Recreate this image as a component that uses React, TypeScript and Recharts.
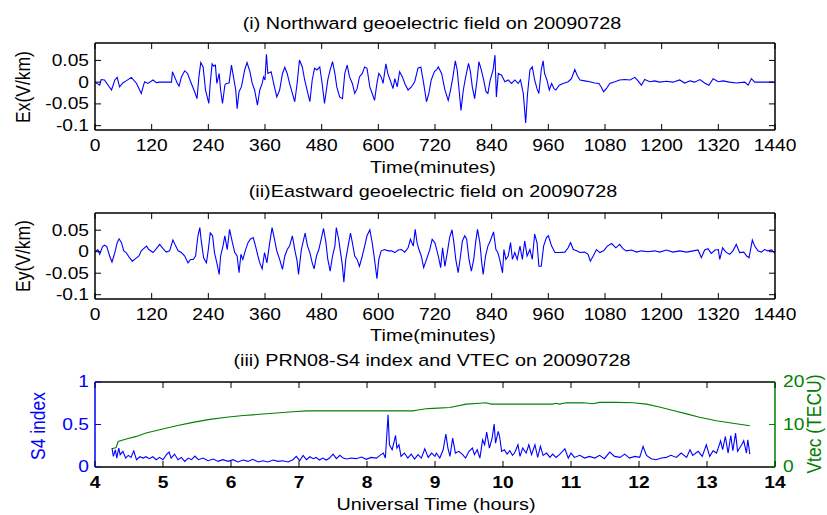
import { LineChart, Line, XAxis, YAxis, ReferenceLine } from "recharts";

// ---- tick values ----
const minuteTicks = [0, 120, 240, 360, 480, 600, 720, 840, 960, 1080, 1200, 1320, 1440];
const fieldTicks = [-0.1, -0.05, 0, 0.05];
const hourTicks = [4, 5, 6, 7, 8, 9, 10, 11, 12, 13, 14];
const s4Ticks = [0, 0.5, 1];
const vtecTicks = [0, 10, 20];

// ---- (i) northward field, [minute, V/km] ----
const exSamples: [number, number][] = [
  [0, 0], [10, -0.007], [13, 0.006], [20, 0.005], [35, -0.018], [42, 0.005], [47, 0.011], [52, -0.011],
  [59, -0.002], [66, 0.003], [77, 0.011], [88, -0.003], [98, -0.026], [105, 0.001], [112, -0.003],
  [123, 0.005], [130, -0.001], [137, 0], [162, 0], [164, 0.024], [169, 0.011], [174, -0.002],
  [178, -0.009], [183, 0.012], [190, 0.026], [196, 0.02], [204, -0.003], [211, -0.022], [216, -0.038],
  [220, 0.012], [224, 0.045], [229, 0.035], [234, -0.018], [241, -0.049], [244, -0.003], [248, 0.042],
  [251, 0.037], [255, 0.039], [258, -0.003], [263, 0.02], [266, -0.018], [270, -0.049], [275, -0.007],
  [278, -0.003], [284, -0.002], [289, 0.039], [292, 0.02], [298, -0.018], [301, -0.061], [305, -0.022],
  [310, -0.011], [317, 0.028], [322, 0.045], [328, 0.024], [333, -0.003], [338, -0.018], [344, -0.053],
  [349, -0.018], [354, -0.003], [357, 0.012], [360, 0.005], [363, 0.064], [366, 0.02], [373, 0.024],
  [380, -0.011], [385, -0.034], [391, -0.018], [397, 0.02], [402, 0.034], [407, 0.02], [412, -0.003],
  [418, -0.026], [423, -0.045], [428, -0.003], [433, 0.051], [439, 0.035], [444, 0.005], [449, -0.018],
  [455, -0.045], [460, 0.005], [465, 0.032], [470, 0.028], [476, 0.035], [481, -0.003], [486, -0.049],
  [493, 0.005], [498, 0.028], [503, 0.047], [508, 0.02], [512, -0.011], [518, -0.034], [524, -0.038],
  [529, 0.02], [534, 0.039], [539, 0.012], [545, -0.003], [550, -0.026], [555, -0.015], [560, 0.012],
  [566, 0.02], [571, 0.035], [576, 0.032], [582, -0.011], [587, -0.026], [592, -0.042], [597, -0.003],
  [601, 0.02], [606, 0.012], [610, -0.003], [616, 0.042], [620, 0.02], [625, 0.005], [631, -0.015],
  [635, 0.008], [640, -0.011], [645, 0.024], [651, 0.012], [656, -0.003], [663, -0.018], [670, -0.011],
  [677, 0.001], [684, 0.032], [690, 0.035], [696, -0.003], [702, -0.045], [707, -0.026], [712, 0.005],
  [719, 0.025], [723, 0.028], [727, 0.035], [734, 0.02], [741, -0.018], [748, -0.042], [753, -0.018],
  [758, 0.012], [763, 0.049], [767, 0.028], [771, -0.018], [775, -0.065], [780, -0.018], [785, 0.012],
  [791, 0.043], [795, 0.024], [799, -0.011], [804, -0.038], [809, 0.005], [813, 0.047], [818, 0.028],
  [823, 0.005], [828, -0.022], [832, -0.026], [837, 0.005], [843, 0.028], [847, 0.062], [850, -0.034],
  [854, 0.02], [861, 0.016], [868, 0.001], [875, 0.005], [882, -0.003], [889, 0.005], [896, -0.003],
  [901, 0.005], [907, -0.026], [912, -0.094], [916, -0.026], [921, 0.028], [926, 0.035], [931, 0.005],
  [936, -0.015], [940, -0.026], [945, 0.028], [949, 0.049], [952, 0.02], [957, 0.005], [962, -0.018],
  [967, -0.003], [972, -0.015], [976, -0.018], [983, -0.007], [991, -0.003], [1002, 0.001], [1009, 0.008],
  [1016, 0.029], [1021, 0.016], [1027, 0.005], [1037, 0.003], [1048, 0.001], [1058, -0.002], [1067, -0.003],
  [1072, -0.011], [1077, -0.022], [1083, -0.015], [1090, -0.003], [1101, 0.001], [1111, 0.005], [1122, 0.006],
  [1133, 0.005], [1143, 0.011], [1150, 0.003], [1157, -0.007], [1164, 0.006], [1175, 0.001], [1185, 0.003],
  [1196, 0], [1210, 0.002], [1224, 0], [1238, 0.005], [1249, -0.002], [1260, 0.003], [1270, 0], [1281, 0.006],
  [1291, -0.002], [1300, -0.007], [1309, 0.008], [1320, 0.001], [1330, 0.003], [1344, 0], [1358, -0.002],
  [1376, 0], [1383, -0.007], [1390, 0.008], [1397, 0], [1440, 0],
];

// ---- (ii) eastward field ----
const eySamples: [number, number][] = [
  [0, 0], [6, 0.005], [10, -0.006], [16, 0.012], [20, 0.015], [25, 0.012], [31, -0.01], [36, -0.024],
  [42, -0.002], [47, 0.021], [51, 0.03], [56, 0.021], [61, 0.002], [66, -0.002], [73, -0.014], [79, -0.022],
  [86, -0.016], [93, -0.01], [98, 0.002], [103, 0.007], [109, 0.013], [114, 0.005], [123, -0.002], [130, 0.007],
  [137, 0.017], [144, 0.007], [151, -0.001], [158, 0.002], [165, 0.027], [171, 0.013], [176, 0.002],
  [183, -0.002], [190, -0.01], [197, -0.026], [202, -0.018], [208, -0.018], [213, -0.01], [218, 0.037],
  [222, 0.056], [225, 0.025], [230, -0.014], [236, -0.026], [240, 0.005], [244, 0.044], [249, 0.037],
  [253, -0.002], [258, -0.026], [263, -0.053], [266, -0.01], [271, 0.013], [275, 0.037], [280, 0.005],
  [285, 0.052], [291, 0.021], [296, -0.002], [301, -0.01], [305, -0.049], [309, -0.006], [313, -0.018],
  [319, 0.005], [324, 0.021], [329, 0.029], [335, 0.033], [340, 0.013], [345, -0.01], [349, -0.026],
  [354, -0.04], [359, -0.002], [364, -0.026], [370, 0.021], [375, 0.056], [380, 0.029], [385, 0.002],
  [391, -0.018], [397, -0.041], [402, -0.01], [407, 0.005], [412, 0.013], [418, 0.037], [423, 0.005],
  [428, -0.022], [431, -0.053], [437, 0.005], [442, 0.029], [445, 0.043], [450, 0.013], [455, -0.002],
  [460, -0.026], [464, -0.04], [469, -0.01], [474, 0.005], [479, 0.029], [484, 0.054], [489, 0.021],
  [493, -0.018], [498, -0.045], [503, -0.01], [508, 0.013], [511, 0.056], [516, 0.029], [520, -0.002],
  [524, -0.033], [527, -0.071], [531, -0.018], [536, 0.013], [541, 0.043], [545, 0.021], [550, -0.01],
  [555, -0.018], [560, -0.034], [566, -0.01], [571, 0.013], [576, 0.037], [582, 0.051], [587, 0.021],
  [592, -0.018], [597, -0.063], [601, -0.018], [606, 0.002], [613, 0.005], [621, 0.002], [628, 0.002],
  [635, -0.002], [642, 0.004], [649, 0.005], [656, -0.001], [663, 0.009], [668, 0.029], [674, 0.013],
  [678, 0.052], [682, 0.021], [686, 0.005], [691, -0.01], [696, -0.037], [702, -0.018], [709, 0.005],
  [714, 0.029], [720, 0.02], [727, -0.01], [732, -0.037], [736, 0.009], [741, -0.034], [746, -0.002],
  [751, 0.033], [756, 0.051], [760, 0.021], [764, -0.018], [769, -0.049], [774, -0.01], [778, 0.025],
  [783, 0.037], [787, 0.029], [792, -0.018], [797, -0.045], [802, -0.018], [806, 0.021], [810, 0.052],
  [815, 0.021], [819, -0.026], [822, -0.053], [827, -0.01], [832, 0.013], [837, 0.025], [844, 0.046],
  [849, 0.005], [853, -0.002], [857, -0.018], [863, -0.049], [866, 0.005], [870, -0.018], [875, -0.01],
  [880, 0.021], [884, -0.018], [889, -0.002], [894, -0.018], [900, 0.013], [905, -0.018], [910, 0.025],
  [915, -0.01], [921, 0.005], [926, -0.018], [931, 0.041], [936, 0.021], [940, -0.034], [945, -0.034],
  [950, 0.013], [956, 0.033], [960, 0.037], [967, 0.013], [974, -0.002], [984, -0.002], [995, -0.001],
  [1002, 0.009], [1007, 0.021], [1013, 0.005], [1020, 0.002], [1027, -0.002], [1037, -0.001], [1044, -0.006],
  [1049, -0.022], [1055, -0.01], [1062, 0.005], [1069, -0.002], [1077, 0.002], [1085, 0.013], [1094, 0.019],
  [1103, 0.009], [1111, 0.017], [1118, 0.007], [1125, 0.002], [1136, 0.004], [1147, -0.001], [1157, 0.002],
  [1171, 0], [1185, 0.002], [1196, -0.001], [1210, 0.004], [1224, -0.001], [1238, 0.002], [1253, -0.001],
  [1267, 0.002], [1277, 0.004], [1284, -0.014], [1291, 0.004], [1298, 0.007], [1305, -0.004], [1313, 0.004],
  [1320, 0.005], [1323, -0.018], [1329, 0.009], [1336, -0.001], [1344, -0.006], [1351, 0.002], [1358, 0.017],
  [1365, -0.002], [1374, -0.001], [1380, -0.01], [1385, -0.014], [1392, 0.027], [1397, 0.013], [1404, 0.002],
  [1411, -0.001], [1418, 0.005], [1425, 0.002], [1433, 0.004], [1440, -0.004],
];

// ---- (iii) S4 index, [UT hour, S4] ----
const s4Samples: [number, number][] = [
  [4.25, 0.223], [4.27, 0.125], [4.3, 0.203], [4.32, 0.105], [4.35, 0.223], [4.37, 0.145], [4.41, 0.184],
  [4.45, 0.105], [4.49, 0.137], [4.53, 0.113], [4.57, 0.191], [4.61, 0.086], [4.66, 0.121], [4.71, 0.105],
  [4.75, 0.121], [4.8, 0.098], [4.85, 0.121], [4.9, 0.086], [4.95, 0.113], [5.0, 0.086], [5.05, 0.145],
  [5.09, 0.176], [5.12, 0.105], [5.17, 0.152], [5.22, 0.086], [5.27, 0.113], [5.32, 0.066], [5.37, 0.105],
  [5.42, 0.086], [5.47, 0.129], [5.52, 0.086], [5.59, 0.105], [5.66, 0.074], [5.74, 0.094], [5.81, 0.066],
  [5.88, 0.086], [5.96, 0.066], [6.03, 0.086], [6.1, 0.059], [6.18, 0.082], [6.25, 0.066], [6.32, 0.09],
  [6.4, 0.059], [6.47, 0.074], [6.54, 0.059], [6.62, 0.082], [6.69, 0.066], [6.76, 0.074], [6.84, 0.059],
  [6.91, 0.086], [6.96, 0.125], [7.01, 0.074], [7.06, 0.137], [7.11, 0.086], [7.16, 0.121], [7.21, 0.098],
  [7.25, 0.113], [7.3, 0.082], [7.35, 0.105], [7.4, 0.082], [7.45, 0.105], [7.5, 0.152], [7.55, 0.098],
  [7.6, 0.137], [7.65, 0.105], [7.7, 0.094], [7.77, 0.105], [7.84, 0.098], [7.92, 0.117], [7.99, 0.09],
  [8.06, 0.113], [8.14, 0.105], [8.19, 0.137], [8.24, 0.164], [8.27, 0.105], [8.31, 0.613], [8.33, 0.262],
  [8.37, 0.203], [8.4, 0.301], [8.42, 0.371], [8.44, 0.223], [8.47, 0.262], [8.5, 0.125], [8.55, 0.164],
  [8.6, 0.105], [8.65, 0.152], [8.7, 0.094], [8.75, 0.145], [8.8, 0.105], [8.85, 0.215], [8.9, 0.113],
  [8.95, 0.164], [9.0, 0.125], [9.02, 0.164], [9.07, 0.105], [9.12, 0.203], [9.16, 0.387], [9.19, 0.223],
  [9.22, 0.125], [9.26, 0.34], [9.3, 0.164], [9.35, 0.184], [9.4, 0.152], [9.45, 0.105], [9.5, 0.184],
  [9.55, 0.223], [9.58, 0.145], [9.62, 0.203], [9.66, 0.105], [9.7, 0.32], [9.73, 0.262], [9.76, 0.41],
  [9.8, 0.223], [9.84, 0.34], [9.87, 0.504], [9.89, 0.281], [9.93, 0.418], [9.95, 0.359], [9.98, 0.184],
  [10.02, 0.203], [10.06, 0.152], [10.1, 0.191], [10.14, 0.137], [10.17, 0.164], [10.22, 0.262],
  [10.25, 0.125], [10.29, 0.223], [10.34, 0.164], [10.38, 0.262], [10.42, 0.145], [10.47, 0.262],
  [10.51, 0.113], [10.55, 0.242], [10.59, 0.137], [10.64, 0.164], [10.69, 0.113], [10.73, 0.152],
  [10.78, 0.113], [10.83, 0.145], [10.91, 0.215], [10.96, 0.105], [11.0, 0.164], [11.05, 0.113],
  [11.13, 0.137], [11.2, 0.105], [11.27, 0.125], [11.35, 0.105], [11.42, 0.137], [11.49, 0.098],
  [11.57, 0.176], [11.64, 0.125], [11.72, 0.113], [11.79, 0.152], [11.86, 0.105], [11.94, 0.125],
  [12.01, 0.113], [12.06, 0.242], [12.11, 0.137], [12.18, 0.098], [12.25, 0.086], [12.33, 0.105],
  [12.4, 0.113], [12.47, 0.137], [12.55, 0.113], [12.62, 0.164], [12.7, 0.113], [12.75, 0.203],
  [12.79, 0.137], [12.87, 0.184], [12.93, 0.125], [12.99, 0.262], [13.04, 0.125], [13.09, 0.191],
  [13.14, 0.164], [13.2, 0.309], [13.23, 0.203], [13.27, 0.359], [13.31, 0.164], [13.35, 0.371],
  [13.38, 0.191], [13.42, 0.398], [13.45, 0.184], [13.48, 0.223], [13.51, 0.262], [13.54, 0.309],
  [13.58, 0.164], [13.6, 0.32], [13.63, 0.152],
];

// ---- (iii) VTEC, [UT hour, TECU] ----
const vtecSamples: [number, number][] = [
  [4.25, 4.3], [4.31, 4.6], [4.34, 6.0], [4.46, 6.6], [4.61, 7.2], [4.75, 8.0], [4.95, 8.75], [5.2, 9.7],
  [5.44, 10.5], [5.69, 11.2], [5.93, 11.7], [6.18, 12.1], [6.42, 12.4], [6.67, 12.7], [6.91, 13.0],
  [7.11, 13.2], [7.4, 13.2], [7.89, 13.2], [8.38, 13.2], [8.68, 13.2], [8.75, 13.4], [8.87, 13.7],
  [8.97, 13.8], [9.22, 14.0], [9.46, 14.8], [9.66, 15.0], [9.75, 15.1], [9.83, 14.8], [10.2, 14.8],
  [10.73, 14.8], [10.78, 15.0], [10.83, 14.8], [10.93, 15.1], [11.18, 15.1], [11.32, 14.9], [11.42, 15.2],
  [11.67, 15.2], [11.91, 15.1], [12.11, 14.8], [12.3, 14.1], [12.5, 13.3], [12.7, 12.5], [12.89, 11.7],
  [13.14, 10.9], [13.38, 10.3], [13.63, 9.7],
];

const exData = exSamples.map(([m, v]) => ({ m, v }));
const eyData = eySamples.map(([m, v]) => ({ m, v }));
const s4Data = s4Samples.map(([h, v]) => ({ h, s4: v }));
const vtecData = vtecSamples.map(([h, v]) => ({ h, tec: v }));

const FONT = "'Liberation Sans', Arial, Helvetica, sans-serif";
const SX = 1.2; // the figure's text is a little wide
const BLUE = "#0000ff";
const GREEN = "#008000";
const PL = 95;
const PR = 775;
const TICK = 6;

function makeXTick(plotTop: number, plotBottom: number, bold: boolean) {
  return (props: any) => {
    const { x, payload } = props;
    return (
      <g>
        <line x1={x} x2={x} y1={plotBottom} y2={plotBottom - TICK} stroke="#000" />
        <line x1={x} x2={x} y1={plotTop} y2={plotTop + TICK} stroke="#000" />
        <text
          transform={`translate(${x},${plotBottom + 16}) scale(${SX},1)`}
          textAnchor="middle"
          dominantBaseline="central"
          fontSize={16}
          fontFamily={FONT}
          fontWeight={bold ? 700 : 400}
          fill="#000"
        >
          {payload.value}
        </text>
      </g>
    );
  };
}

function makeYTick(side: "left" | "right", color: string, mirror: boolean) {
  return (props: any) => {
    const { y, payload } = props;
    const left = side === "left";
    return (
      <g>
        {(left || mirror) && <line x1={PL} x2={PL + TICK} y1={y} y2={y} stroke={color} />}
        {(!left || mirror) && <line x1={PR - TICK} x2={PR} y1={y} y2={y} stroke={color} />}
        <text
          transform={`translate(${left ? PL - 6 : PR + 8},${y}) scale(${SX},1)`}
          textAnchor={left ? "end" : "start"}
          dominantBaseline="central"
          fontSize={16}
          fontFamily={FONT}
          fill={color}
        >
          {payload.value}
        </text>
      </g>
    );
  };
}

function FieldPanel({ top, data, plotTop, plotBottom }: { top: number; data: any[]; plotTop: number; plotBottom: number }) {
  const h = 170;
  return (
    <div style={{ position: "absolute", left: 0, top }}>
      <LineChart width={827} height={h} data={data} margin={{ top: plotTop, right: 827 - PR, bottom: h - plotBottom - 30, left: PL - 60 }}>
        <XAxis
          dataKey="m"
          type="number"
          domain={[0, 1440]}
          ticks={minuteTicks}
          interval={0}
          height={30}
          allowDataOverflow
          tickLine={false}
          axisLine={{ stroke: "#000", strokeWidth: 1.5 }}
          tick={makeXTick(plotTop, plotBottom, false)}
        />
        <YAxis
          type="number"
          domain={[-0.11, 0.09]}
          ticks={fieldTicks}
          interval={0}
          width={60}
          allowDataOverflow
          tickLine={false}
          axisLine={{ stroke: "#000", strokeWidth: 1.5 }}
          tick={makeYTick("left", "#000", true)}
        />
        <ReferenceLine y={0.09} stroke="#000" strokeWidth={1.5} />
        <ReferenceLine x={1440} stroke="#000" strokeWidth={1.5} />
        <Line type="linear" dataKey="v" stroke={BLUE} strokeWidth={1.1} dot={false} isAnimationActive={false} />
      </LineChart>
    </div>
  );
}

function ScintPanel() {
  const h = 175;
  const plotTop = 42;
  const plotBottom = 127;
  return (
    <div style={{ position: "absolute", left: 0, top: 340 }}>
      <LineChart width={827} height={h} margin={{ top: plotTop, right: 827 - PR - 40, bottom: h - plotBottom - 30, left: PL - 60 }}>
        <XAxis
          dataKey="h"
          type="number"
          domain={[4, 14]}
          ticks={hourTicks}
          interval={0}
          height={30}
          allowDataOverflow
          tickLine={false}
          axisLine={{ stroke: "#000", strokeWidth: 1.5 }}
          tick={makeXTick(plotTop, plotBottom, true)}
        />
        <YAxis
          yAxisId="left"
          type="number"
          domain={[0, 1]}
          ticks={s4Ticks}
          interval={0}
          width={60}
          allowDataOverflow
          tickLine={false}
          axisLine={{ stroke: BLUE, strokeWidth: 1.5 }}
          tick={makeYTick("left", BLUE, false)}
        />
        <YAxis
          yAxisId="right"
          orientation="right"
          type="number"
          domain={[0, 20]}
          ticks={vtecTicks}
          interval={0}
          width={40}
          allowDataOverflow
          tickLine={false}
          axisLine={{ stroke: GREEN, strokeWidth: 1.5 }}
          tick={makeYTick("right", GREEN, false)}
        />
        <ReferenceLine yAxisId="left" y={1} stroke="#000" strokeWidth={1.5} />
        <Line yAxisId="right" data={vtecData} type="linear" dataKey="tec" stroke={GREEN} strokeWidth={1.1} dot={false} isAnimationActive={false} />
        <Line yAxisId="left" data={s4Data} type="linear" dataKey="s4" stroke={BLUE} strokeWidth={1.1} dot={false} isAnimationActive={false} />
      </LineChart>
    </div>
  );
}

function HText({ x, y, text, size = 16.5 }: { x: number; y: number; text: string; size?: number }) {
  return (
    <text transform={`translate(${x},${y}) scale(${SX},1)`} textAnchor="middle" fontSize={size} fontFamily={FONT} fill="#000">
      {text}
    </text>
  );
}

function VText({ x, y, text, color }: { x: number; y: number; text: string; color: string }) {
  return (
    <text transform={`translate(${x},${y}) scale(${SX},1) rotate(-90)`} textAnchor="middle" fontSize={17.5} fontFamily={FONT} fill={color}>
      {text}
    </text>
  );
}

export default function App() {
  return (
    <div style={{ position: "absolute", left: 0, top: 0, width: 827, height: 515, background: "#fff", overflow: "hidden" }}>
      <FieldPanel top={0} data={exData} plotTop={43} plotBottom={130} />
      <FieldPanel top={170} data={eyData} plotTop={43} plotBottom={129} />
      <ScintPanel />
      <svg width={827} height={515} style={{ position: "absolute", left: 0, top: 0, pointerEvents: "none" }}>
        <HText x={432} y={29} text="(i) Northward geoelectric field on 20090728" />
        <HText x={433} y={173} text="Time(minutes)" />
        <HText x={433} y={197} text="(ii)Eastward geoelectric field on 20090728" />
        <HText x={433} y={341} text="Time(minutes)" />
        <HText x={432} y={366} text="(iii) PRN08-S4 index and VTEC on 20090728" />
        <HText x={436} y={510} text="Universal Time (hours)" />
        <VText x={30} y={87} text="Ex(V/km)" color="#000" />
        <VText x={30} y={256} text="Ey(V/km)" color="#000" />
        <VText x={45} y={426} text="S4 index" color={BLUE} />
        <VText x={821} y={424} text="Vtec (TECU)" color={GREEN} />
      </svg>
    </div>
  );
}
